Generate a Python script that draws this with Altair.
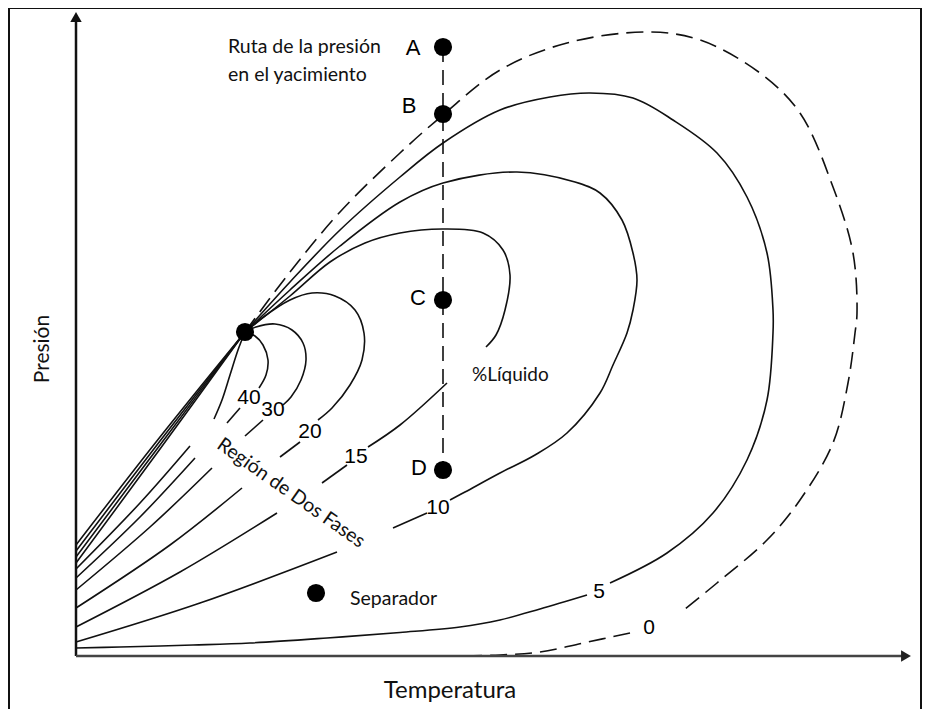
import altair as alt
import pandas as pd

# ---- values (picture units: x to the right, y downward) ----
# calibration: Temperature = x - 76 ; Pressure = 656 - y (axis origin at picture (76,656))
CP = (245, 332)

fan_direct = [
    [CP, (160, 437), (76, 545)],
    [CP, (160, 441), (76, 551)],
    [CP, (160, 445), (76, 557)],
    [CP, (160, 449), (76, 563)],
]
line_50 = [[CP, (238, 350), (230, 375), (222, 400), (214, 419)],
           [(190, 446), (140, 503), (76, 569)]]
line_40 = [[CP, (255, 336), (263, 345), (268, 360), (266, 375), (259, 388)],
           [(240, 408), (227, 423)],
           [(195, 458), (140, 517), (76, 578)]]
line_30 = [[CP, (256, 327), (275, 324), (292, 330), (303, 343), (306, 360), (301, 380), (291, 397), (283, 405)],
           [(263, 420), (245, 436)],
           [(212, 468), (150, 527), (76, 590)]]
line_20 = [[CP, (262, 318), (290, 300), (312, 293), (335, 296), (355, 310), (364, 333), (362, 360), (350, 385), (332, 408), (318, 420)],
           [(300, 442), (280, 457)],
           [(242, 488), (170, 545), (76, 608)]]
line_15 = [[CP, (290, 296), (330, 262), (365, 243), (400, 233), (443, 229), (483, 233), (503, 250), (510, 275), (505, 310), (496, 335), (486, 347)],
           [(447, 383), (400, 425), (368, 447)],
           [(347, 465), (322, 483)],
           [(277, 513), (180, 572), (76, 627)]]
line_10 = [[CP, (290, 290), (340, 246), (400, 202), (443, 183), (517, 172), (575, 182), (600, 193), (622, 220), (633, 253), (637, 280), (633, 310), (627, 333), (613, 365), (600, 393), (567, 433), (535, 455), (500, 473), (465, 492), (450, 500)],
           [(427, 513), (393, 528)],
           [(337, 552), (200, 603), (76, 642)]]
line_5 = [[CP, (290, 282), (340, 230), (400, 177), (443, 143), (500, 110), (550, 97), (590, 93), (633, 98), (673, 120), (717, 153), (747, 197), (767, 253), (773, 310), (773, 333), (767, 400), (747, 460), (713, 513), (667, 553), (610, 583)],
          [(587, 595), (540, 609), (500, 620), (460, 627), (400, 632.5), (327, 638), (250, 643), (193, 645), (120, 647), (76, 648)]]
line_0 = [[CP, (290, 272), (340, 212), (400, 153), (443, 115), (500, 70), (567, 43), (647, 32), (700, 40), (760, 73), (800, 113), (833, 187), (853, 253), (857, 313), (855, 333), (848, 383), (833, 443), (800, 500), (767, 540), (717, 583), (680, 613)],
          [(630, 633), (583, 643), (540, 652), (500, 655), (460, 656)]]

path_x = [443, 443]
path_y = [47, 470]

pt_names = ["A", "B", "C", "D", "Separador", "CP"]
pt_x = [443, 443, 443, 443, 316, 245]
pt_y = [47, 114, 300, 470, 593, 332]

letter_labels = ["A", "B", "C", "D"]
letter_x = [413, 409, 418, 419]
letter_y = [48, 106, 298, 468]

pct_labels = ["40", "30", "20", "15", "10", "5", "0"]
pct_x = [249, 273, 310, 356, 438, 599, 649]
pct_y = [398, 410, 432, 457, 508, 592, 628]


def T(x):
    return x - 76


def P(y):
    return 656 - y


solid_rows = []
sid = 0
for group in [fan_direct, line_50, line_40, line_30, line_20, line_15, line_10, line_5]:
    for seg in group:
        for i, (x, y) in enumerate(seg):
            solid_rows.append({"seg": sid, "o": i, "T": T(x), "P": P(y)})
        sid += 1
dash_rows = []
for seg in line_0:
    for i, (x, y) in enumerate(seg):
        dash_rows.append({"seg": sid, "o": i, "T": T(x), "P": P(y)})
    sid += 1

solid_df = pd.DataFrame(solid_rows)
dash_df = pd.DataFrame(dash_rows)
path_df = pd.DataFrame({"T": [T(v) for v in path_x], "P": [P(v) for v in path_y], "o": [0, 1]})
pts_df = pd.DataFrame({"name": pt_names, "T": [T(v) for v in pt_x], "P": [P(v) for v in pt_y]})
letters_df = pd.DataFrame({"label": letter_labels, "T": [T(v) for v in letter_x], "P": [P(v) for v in letter_y]})
pct_df = pd.DataFrame({"label": pct_labels, "T": [T(v) for v in pct_x], "P": [P(v) for v in pct_y]})

xs = alt.Scale(domain=[-68, 846], nice=False, zero=False)
ys = alt.Scale(domain=[-53, 648], nice=False, zero=False)
X = alt.X("T:Q", scale=xs, axis=None)
Y = alt.Y("P:Q", scale=ys, axis=None)

solid = alt.Chart(solid_df).mark_line(color="#111", strokeWidth=1.6, interpolate="catmull-rom").encode(
    x=X, y=Y, detail="seg:N", order="o:Q")
dashed = alt.Chart(dash_df).mark_line(color="#111", strokeWidth=1.6, strokeDash=[17, 8],
                                      interpolate="catmull-rom").encode(
    x=X, y=Y, detail="seg:N", order="o:Q")
path = alt.Chart(path_df).mark_line(color="#111", strokeWidth=1.6, strokeDash=[15, 8]).encode(
    x=X, y=Y, order="o:Q")

# axes with arrows
axes_df = pd.DataFrame({"T": [0, 0], "P": [0, 0], "T2": [0, 826], "P2": [637, 0], "c": ["y", "x"]})
yaxis = alt.Chart(axes_df[axes_df.c == "y"]).mark_rule(color="#111", strokeWidth=2.5).encode(
    x=X, y=Y, y2="P2:Q")
xaxis = alt.Chart(axes_df[axes_df.c == "x"]).mark_rule(color="#444", strokeWidth=2.5).encode(
    x=X, x2="T2:Q", y=Y)
arrow_up = alt.Chart(pd.DataFrame({"T": [0], "P": [639]})).mark_point(
    shape="triangle-up", filled=True, color="#111", size=130, opacity=1).encode(x=X, y=Y)
arrow_right = alt.Chart(pd.DataFrame({"T": [830], "P": [0]})).mark_point(
    shape="triangle-right", filled=True, color="#222", size=130, opacity=1).encode(x=X, y=Y)

# outer frame
frame_df = pd.DataFrame({"T": [-67, -67, 845], "P": [-53, 648, -53], "T2": [-67, 845, 845], "P2": [648, 648, 648]})
frame = alt.Chart(frame_df).mark_rule(color="#111", strokeWidth=2).encode(
    x=X, y=Y, x2="T2:Q", y2="P2:Q")

dots = alt.Chart(pts_df).mark_circle(color="#000", size=330, opacity=1).encode(x=X, y=Y)

letters = alt.Chart(letters_df).mark_text(font="Liberation Sans", fontSize=22, color="#000",
                                          align="center", baseline="middle").encode(x=X, y=Y, text="label:N")
pcts = alt.Chart(pct_df).mark_text(font="Liberation Sans", fontSize=21, color="#000",
                                   align="center", baseline="middle").encode(x=X, y=Y, text="label:N")

notes_df = pd.DataFrame({
    "label": ["Ruta de la presión", "en el yacimiento", "Separador", "%Líquido"],
    "T": [T(228), T(228), T(350), T(472)],
    "P": [P(47), P(75), P(599), P(375)],
    "fs": [19.5, 19.5, 19.5, 19],
})
notes = alt.Chart(notes_df).mark_text(font="Lato", color="#111",
                                      align="left", baseline="middle").encode(
    x=X, y=Y, text="label:N", size=alt.Size("fs:Q", scale=None, legend=None))
region = alt.Chart(pd.DataFrame({"label": ["Región de Dos Fases"], "T": [T(291)], "P": [P(493)]})).mark_text(
    font="Lato", fontSize=19.5, color="#111", angle=35, align="center", baseline="middle").encode(
    x=X, y=Y, text="label:N")
temp = alt.Chart(pd.DataFrame({"label": ["Temperatura"], "T": [T(450)], "P": [P(691)]})).mark_text(
    font="Lato", fontSize=24, color="#111", align="center", baseline="middle").encode(
    x=X, y=Y, text="label:N")
pres = alt.Chart(pd.DataFrame({"label": ["Presión"], "T": [T(43)], "P": [P(349)]})).mark_text(
    font="Lato", fontSize=21, color="#111", angle=270, align="center", baseline="middle").encode(
    x=X, y=Y, text="label:N")

chart = alt.layer(
    frame, solid, dashed, path, yaxis, xaxis, arrow_up, arrow_right, dots,
    letters, pcts, notes, region, temp, pres
).properties(
    width=914, height=701, padding=0, autosize=alt.AutoSizeParams(type="none")
).configure_view(stroke=None).configure(background="white")

chart.save("out.html", embed_options={"renderer": "svg", "actions": False})
